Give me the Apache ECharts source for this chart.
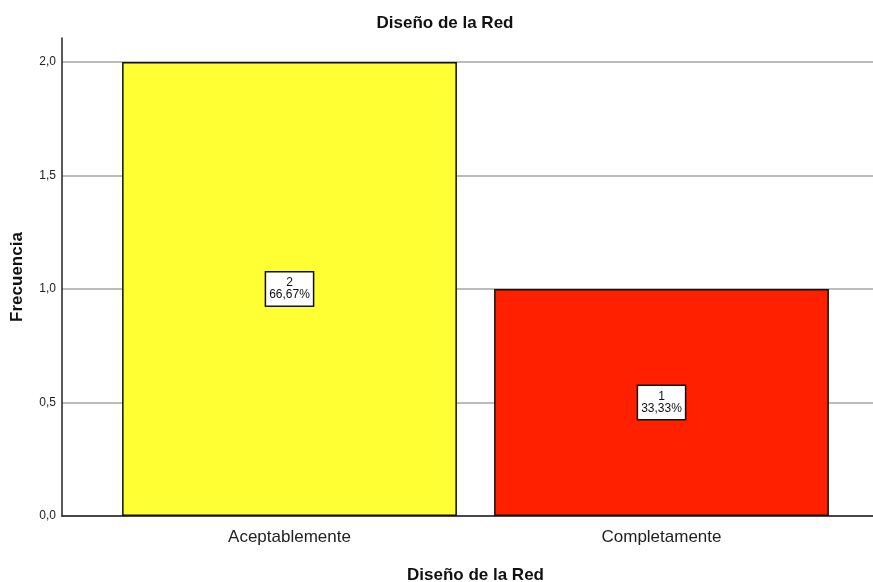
<!DOCTYPE html>
<html>
<head>
<meta charset="utf-8">
<title>Diseño de la Red</title>
<script src="https://cdn.jsdelivr.net/npm/echarts@6/dist/echarts.min.js"></script>
<style>
html, body {
	margin: 0;
	padding: 0;
	background: #fff;
}
#chart {
	width: 873px;
	height: 582px;
}
</style>
</head>
<body>
<div id="chart"></div>
<script type="text/javascript">
    // datos del grafico
    var categorias = ['Aceptablemente', 'Completamente'];
    var frecuencias = [2, 1];
    var porcentajes = ['66,67%', '33,33%'];
    var colores = ['#ffff33', '#ff2000'];

    var chart = echarts.init(document.getElementById('chart'));
    var fuente = '"Liberation Sans", Arial, sans-serif';

    var datosBarra = frecuencias.map(function (v, i) {
        return {
            value: v,
            itemStyle: {color: colores[i]},
            label: {formatter: v + '\n' + porcentajes[i]}
        };
    });

    var option = {
        animation: false,
        title: {
            text: 'Diseño de la Red',
            left: 440,
            top: 10,
            textAlign: 'center',
            textStyle: {fontFamily: fuente, fontSize: 17, fontWeight: 'bold', color: '#111'}
        },
        grid: [
            // lineas de la rejilla y eje x
            {left: 62, right: 0, top: 62, bottom: 66, outerBoundsMode: 'none'},
            // barras
            {left: 103.5, right: 25.5, top: 62, bottom: 66, outerBoundsMode: 'none'},
            // linea del eje y (se alarga por arriba)
            {left: 62, width: 1, top: 38, bottom: 66, outerBoundsMode: 'none'}
        ],
        xAxis: [{
            type: 'category', gridIndex: 0, data: [''],
            axisLine: {lineStyle: {color: '#222', width: 1.5}},
            axisTick: {show: false}, axisLabel: {show: false}
        }, {
            type: 'category', gridIndex: 1, data: categorias,
            axisLine: {show: false}, axisTick: {show: false},
            axisLabel: {margin: 13, fontFamily: fuente, fontSize: 17, color: '#222'},
            name: 'Diseño de la Red', nameLocation: 'middle', nameGap: 51,
            nameTextStyle: {fontFamily: fuente, fontSize: 17, fontWeight: 'bold', color: '#111'}
        }, {
            type: 'category', gridIndex: 2, data: [''], show: false
        }],
        yAxis: [{
            type: 'value', gridIndex: 0, min: 0, max: 2, interval: 0.5,
            axisLine: {show: false}, axisTick: {show: false},
            axisLabel: {
                margin: 6, fontFamily: fuente, fontSize: 12, color: '#222',
                formatter: function (v) { return v.toFixed(1).replace('.', ','); }
            },
            splitLine: {lineStyle: {color: '#a6a6a6', width: 1.5}}
        }, {
            type: 'value', gridIndex: 1, min: 0, max: 2, show: false
        }, {
            type: 'value', gridIndex: 2, min: 0, max: 1,
            axisLine: {show: true, lineStyle: {color: '#222', width: 1.5}},
            axisTick: {show: false}, axisLabel: {show: false}, splitLine: {show: false},
            name: 'Frecuencia', nameLocation: 'middle', nameGap: 36,
            nameTextStyle: {fontFamily: fuente, fontSize: 17, fontWeight: 'bold', color: '#111'}
        }],
        series: [{
            type: 'bar',
            xAxisIndex: 1,
            yAxisIndex: 1,
            barCategoryGap: '10%',
            data: datosBarra,
            itemStyle: {borderColor: '#111', borderWidth: 1.5},
            label: {
                show: true,
                position: 'inside',
                fontFamily: fuente,
                fontSize: 12,
                lineHeight: 12,
                color: '#111',
                backgroundColor: '#fff',
                borderColor: '#111',
                borderWidth: 1.5,
                padding: [5, 3, 4, 3]
            }
        }]
    };

    chart.setOption(option);
</script>
</body>
</html>
